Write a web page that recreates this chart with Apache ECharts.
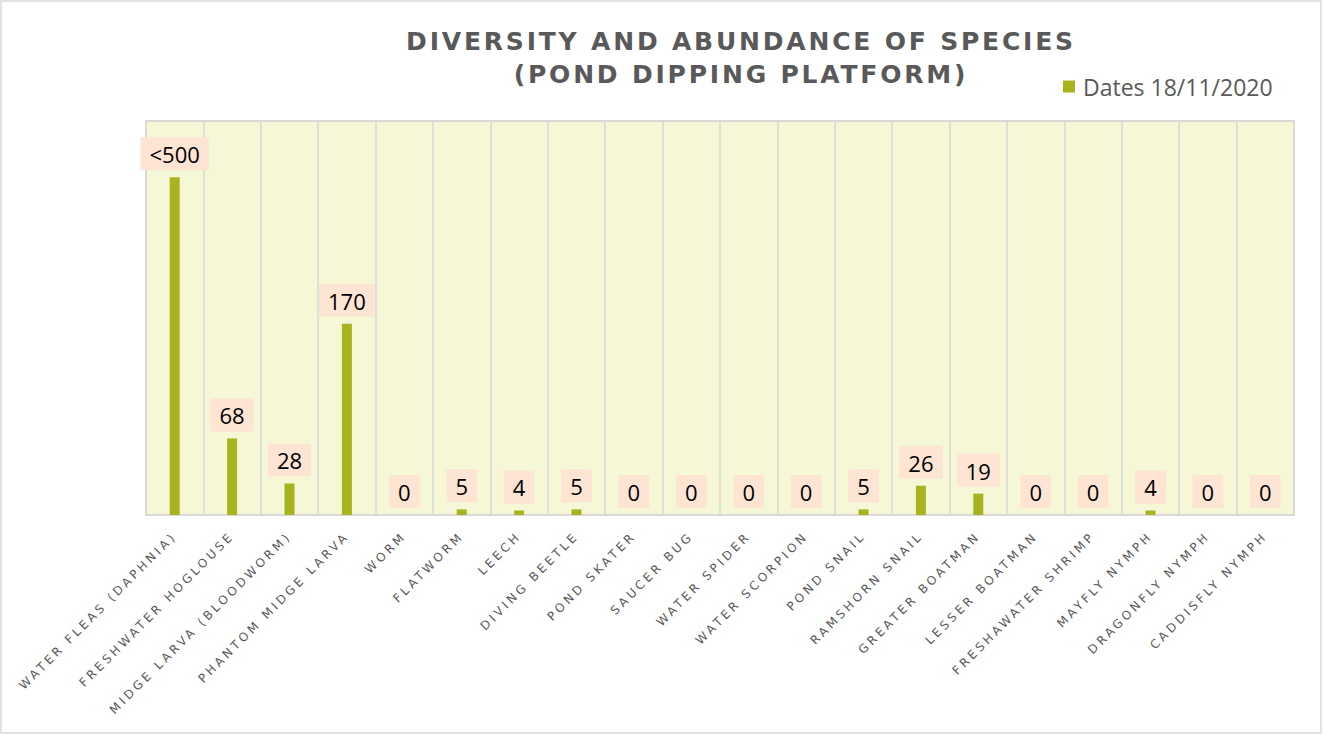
<!DOCTYPE html>
<html><head><meta charset="utf-8">
<script src="https://cdn.jsdelivr.net/npm/echarts@6/dist/echarts.min.js"></script>
<style>html,body{margin:0;padding:0;background:#fff}#c{width:1323px;height:735px}</style>
</head><body><div id="c"></div>
<script>
const categories = ['WATER FLEAS (DAPHNIA)','FRESHWATER HOGLOUSE','MIDGE LARVA (BLOODWORM)','PHANTOM MIDGE LARVA','WORM','FLATWORM','LEECH','DIVING BEETLE','POND SKATER','SAUCER BUG','WATER SPIDER','WATER SCORPION','POND SNAIL','RAMSHORN SNAIL','GREATER BOATMAN','LESSER BOATMAN','FRESHAWATER SHRIMP','MAYFLY NYMPH','DRAGONFLY NYMPH','CADDISFLY NYMPH'];
const values = [300,68,28,170,0,5,4,5,0,0,0,0,5,26,19,0,0,4,0,0];
const valueLabels = ['<500','68','28','170','0','5','4','5','0','0','0','0','5','26','19','0','0','4','0','0'];
const seriesName = 'Dates 18/11/2020';
const titleLines = ['DIVERSITY AND ABUNDANCE OF SPECIES','(POND DIPPING PLATFORM)'];
const yMin = 0, yMax = 350;

const chart = echarts.init(document.getElementById('c'), null, {renderer:'svg'});
const option = {
  animation:false,
  backgroundColor:'#ffffff',
  graphic:[
    {type:'rect', shape:{x:1,y:1,width:1320,height:732}, style:{fill:'none', stroke:'#d9d9d9', lineWidth:1.5}, silent:true},
    {type:'text', x:741, y:41, style:{text:titleLines[0], textAlign:'center', textVerticalAlign:'middle', fill:'#595959', font:'bold 25px "DejaVu Sans"'}},
    {type:'text', x:741, y:74, style:{text:titleLines[1], textAlign:'center', textVerticalAlign:'middle', fill:'#595959', font:'bold 25px "DejaVu Sans"'}}
  ],
  legend:{
    show:true, left:1058, top:70, itemWidth:12, itemHeight:12, icon:'rect',
    textStyle:{color:'#595959', fontSize:23, fontFamily:'"Open Sans",sans-serif', padding:[0,0,0,3]},
    data:[seriesName]
  },
  grid:{left:146, right:29, top:121, bottom:220, show:true, backgroundColor:'#f5f7d7', borderColor:'#d9d9d9', borderWidth:2, containLabel:false},
  xAxis:{
    type:'category', data:categories, boundaryGap:true,
    axisLine:{show:true, lineStyle:{color:'#d9d9d9', width:2}},
    axisTick:{show:false},
    splitLine:{show:true, lineStyle:{color:'#d9d9d9', width:1.5}},
    axisLabel:{rotate:45, interval:0, margin:19, color:'#595959', fontSize:12, fontFamily:'"DejaVu Sans"'}
  },
  yAxis:{type:'value', min:yMin, max:yMax, show:false, splitLine:{show:false}},
  series:[{
    name:seriesName, type:'bar', data:values, barWidth:10,
    itemStyle:{color:'#a8b41f'},
    label:{show:true, position:'top', distance:7,
      formatter:(p)=>valueLabels[p.dataIndex],
      color:'#000000', fontSize:22, fontFamily:'"Open Sans",sans-serif',
      backgroundColor:'#fde4d3', padding:[6,9,5,9]}
  }]
};
chart.setOption(option);
function spacing(){
  const texts = document.querySelectorAll('#c svg text');
  texts.forEach(t=>{
    const s = t.textContent;
    if (categories.includes(s)) t.setAttribute('letter-spacing','3.2');
    else if (titleLines.includes(s)) t.setAttribute('letter-spacing','2.8');
  });
}
spacing();
chart.on('finished', spacing);
setTimeout(spacing, 50);
</script></body></html>
